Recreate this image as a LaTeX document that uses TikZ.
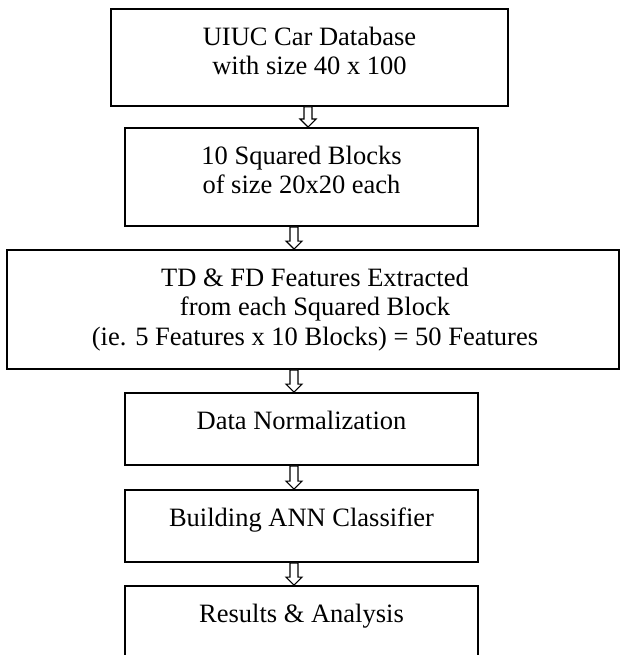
\documentclass[tikz,border=0pt]{standalone}
\usepackage{fontspec}
\setmainfont{Liberation Serif}
\usetikzlibrary{calc}
\newcommand{\flowarrow}[3]{%
  \draw[arr] let \p1=($(#1.south)+(#3,0)$), \p2=(#2.north) in
    (\x1-4pt,\y1) -- (\x1-4pt,\y2+8pt) -- (\x1-8pt,\y2+8pt) -- (\x1,\y2)
    -- (\x1+8pt,\y2+8pt) -- (\x1+4pt,\y2+8pt) -- (\x1+4pt,\y1) -- cycle;}
\begin{document}
\begin{tikzpicture}[x=1pt,y=-1pt,
  box/.style={draw, line width=1.8pt, inner sep=0pt},
  lbl/.style={font=\fontsize{26.5}{29.5}\selectfont, align=center, anchor=base, inner sep=0pt},
  arr/.style={draw, fill=white, line width=1.2pt, line join=miter}]
\useasboundingbox (0,0) rectangle (620,655);
\clip (0,0) rectangle (620,655);
\node[box, minimum width=397pt, minimum height=97pt] (b1) at (309.5,57.5) {};
\node[box, minimum width=353pt, minimum height=98pt] (b2) at (301.5,177) {};
\node[box, minimum width=612pt, minimum height=119pt] (b3) at (313,309.5) {};
\node[box, minimum width=353pt, minimum height=72pt] (b4) at (301.5,429) {};
\node[box, minimum width=353pt, minimum height=72pt] (b5) at (301.5,526) {};
\node[box, minimum width=353pt, minimum height=76pt] (b6) at (301.5,624) {};
\node[lbl] (t1) at ($(b1.north)+(0,66.5)$) {UIUC Car Database\\with size 40 x 100};
\node[lbl] (t2) at ($(b2.north)+(0,66.5)$) {10 Squared Blocks\\of size 20x20 each};
\node[lbl] (t3) at ($(b3.north)+(2,96)$) {TD \& FD Features Extracted\\from each Squared Block\\(ie. 5 Features x 10 Blocks) = 50 Features};
\node[lbl] (t4) at ($(b4.north)+(0,37)$) {Data Normalization};
\node[lbl] (t5) at ($(b5.north)+(0,37)$) {Building ANN Classifier};
\node[lbl] (t6) at ($(b6.north)+(0,37)$) {Results \& Analysis};
\flowarrow{b1}{b2}{-1.5}
\flowarrow{b2}{b3}{-7.5}
\flowarrow{b3}{b4}{-19}
\flowarrow{b4}{b5}{-7.5}
\flowarrow{b5}{b6}{-7.5}
\end{tikzpicture}
\end{document}
